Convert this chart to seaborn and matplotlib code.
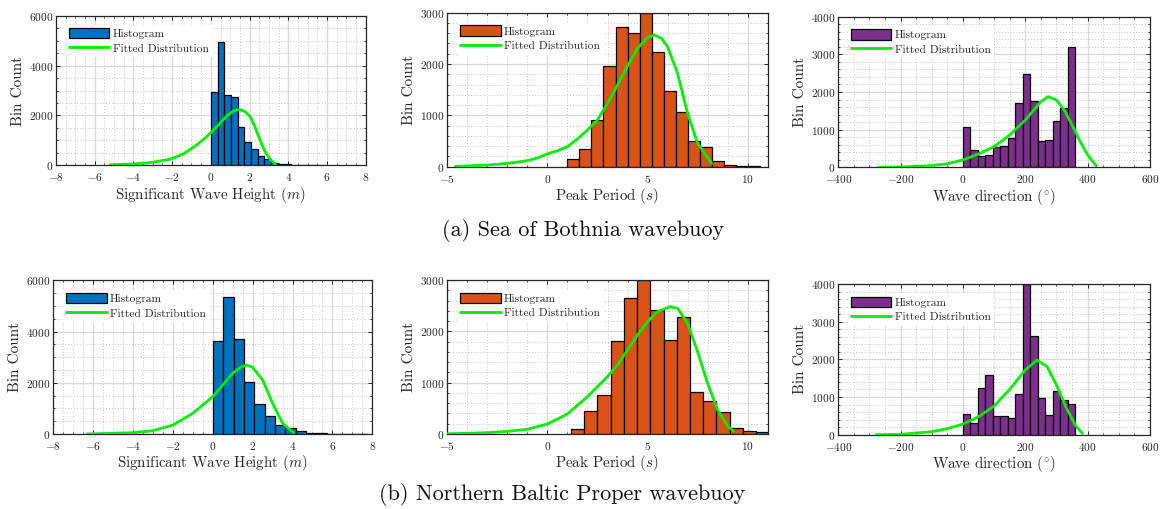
import numpy as np
import pandas as pd
import matplotlib
matplotlib.use("Agg")
import matplotlib.pyplot as plt
import seaborn as sns
from matplotlib.patches import Patch
from matplotlib.lines import Line2D
from matplotlib.ticker import MultipleLocator

# ---------------- data ----------------
# (a) Sea of Bothnia
hs_a_start, hs_a_width = 0.0, 0.345
hs_a_counts = [2920, 4950, 2820, 2720, 1530, 925, 645, 375, 235, 100, 65, 50, 30, 20, 15, 10, 5]
hs_a_fit_x = [-5.2, -4.0, -3.14, -2.11, -1.42, -0.73, -0.21, 0.31, 0.82, 1.16, 1.47, 1.77, 2.03, 2.28, 2.54, 2.80, 3.06, 3.32]
hs_a_fit_y = [20, 54, 107, 241, 455, 816, 1150, 1551, 1979, 2179, 2246, 2153, 1952, 1551, 1016, 548, 241, 53]

tp_a_start, tp_a_width = 1.0, 0.6
tp_a_counts = [150, 350, 910, 1960, 2720, 2600, 2990, 2240, 1470, 1060, 510, 380, 110, 40, 15, 5]
tp_a_fit_x = [-4.6, -3.0, -2.0, -1.0, -0.5, 0.0, 0.5, 1.0, 1.5, 2.0, 2.5, 3.0, 3.5, 4.0, 4.5, 5.0, 5.35, 5.7, 6.0, 6.5, 7.0, 7.5, 8.2]
tp_a_fit_y = [5, 32, 65, 117, 170, 250, 310, 390, 540, 714, 909, 1234, 1591, 1961, 2305, 2520, 2565, 2500, 2338, 1818, 1039, 455, 65]

dir_a_start, dir_a_width = 0.0, 24.0
dir_a_counts = [1070, 460, 310, 330, 550, 570, 770, 1710, 2480, 1760, 690, 730, 1220, 1570, 3200]
dir_a_fit_x = [-270, -200, -100, -50, 0, 50, 100, 150, 200, 250, 273, 300, 325, 350, 375, 400, 428]
dir_a_fit_y = [0, 9, 44, 95, 195, 354, 549, 858, 1257, 1743, 1876, 1788, 1520, 1124, 700, 327, 35]

# (b) Northern Baltic Proper
hs_b_start, hs_b_width = 0.0, 0.52
hs_b_counts = [3630, 5350, 3700, 2020, 1190, 720, 360, 230, 130, 50, 25, 12, 8, 5, 4]
hs_b_fit_x = [-6.3, -4.0, -3.0, -2.0, -1.0, -0.5, 0.0, 0.5, 1.0, 1.4, 1.7, 2.0, 2.5, 3.0, 3.5, 4.05]
hs_b_fit_y = [0, 50, 130, 350, 807, 1133, 1458, 1914, 2370, 2604, 2695, 2604, 2109, 1198, 417, 52]

tp_b_start, tp_b_width = 1.18, 0.66
tp_b_counts = [100, 440, 760, 1820, 2640, 3000, 2410, 1830, 2280, 820, 640, 430, 110, 55, 30]
tp_b_fit_x = [-5.0, -4.0, -3.0, -2.0, -1.0, 0.0, 1.0, 2.0, 3.0, 3.5, 4.0, 4.5, 5.0, 5.5, 6.13, 6.5, 7.0, 7.5, 8.0, 8.5, 9.0, 9.3]
tp_b_fit_y = [6, 13, 26, 52, 91, 195, 390, 727, 1117, 1344, 1636, 1929, 2188, 2383, 2481, 2448, 2156, 1604, 987, 468, 156, 52]

dir_b_start, dir_b_width = 0.0, 24.0
dir_b_counts = [560, 320, 1230, 1590, 500, 490, 440, 1090, 4000, 2610, 970, 520, 1150, 930, 820]
dir_b_fit_x = [-278, -200, -100, -50, 0, 50, 100, 150, 200, 237, 270, 300, 330, 360, 383]
dir_b_fit_y = [0, 9, 80, 160, 283, 478, 761, 1204, 1717, 1982, 1805, 1319, 743, 257, 35]

xlabels = ["Significant Wave Height ($m$)", "Peak Period ($s$)", "Wave direction ($^{\\circ}$)"]
captions = ["(a) Sea of Bothnia wavebuoy", "(b) Northern Baltic Proper wavebuoy"]

BLUE, ORANGE, PURPLE, GREEN = "#0072BD", "#D95319", "#7E2F8E", "#00F000"

# ---------------- style ----------------
sns.set_theme(style="white")
plt.rcParams["font.family"] = ["cmr10", "DejaVu Serif"]
plt.rcParams["mathtext.fontset"] = "cm"
plt.rcParams["axes.formatter.use_mathtext"] = True
plt.rcParams["axes.unicode_minus"] = True

W, H = 1167, 509
fig = plt.figure(figsize=(W / 100, H / 100), dpi=100)


def add_axes_px(l, t, r, b):
    return fig.add_axes([l / W, 1 - b / H, (r - l) / W, (b - t) / H])


panels = [
    dict(box=(56, 15.7, 365.7, 165.3), start=hs_a_start, width=hs_a_width, counts=hs_a_counts,
         fx=hs_a_fit_x, fy=hs_a_fit_y, color=BLUE, xlim=(-8, 8), ylim=(0, 6000),
         xmaj=2, xmin=0.5, ymaj=2000, ymin=500, xl=xlabels[0]),
    dict(box=(447.3, 12.7, 767.7, 166.7), start=tp_a_start, width=tp_a_width, counts=tp_a_counts,
         fx=tp_a_fit_x, fy=tp_a_fit_y, color=ORANGE, xlim=(-5, 11), ylim=(0, 3000),
         xmaj=5, xmin=1, ymaj=1000, ymin=200, xl=xlabels[1]),
    dict(box=(838.3, 16.7, 1150, 167.3), start=dir_a_start, width=dir_a_width, counts=dir_a_counts,
         fx=dir_a_fit_x, fy=dir_a_fit_y, color=PURPLE, xlim=(-400, 600), ylim=(0, 4000),
         xmaj=200, xmin=50, ymaj=1000, ymin=200, xl=xlabels[2]),
    dict(box=(53.3, 280.3, 372.3, 434), start=hs_b_start, width=hs_b_width, counts=hs_b_counts,
         fx=hs_b_fit_x, fy=hs_b_fit_y, color=BLUE, xlim=(-8, 8), ylim=(0, 6000),
         xmaj=2, xmin=0.5, ymaj=2000, ymin=500, xl=xlabels[0]),
    dict(box=(447.3, 280, 767.7, 434), start=tp_b_start, width=tp_b_width, counts=tp_b_counts,
         fx=tp_b_fit_x, fy=tp_b_fit_y, color=ORANGE, xlim=(-5, 11), ylim=(0, 3000),
         xmaj=5, xmin=1, ymaj=1000, ymin=200, xl=xlabels[1]),
    dict(box=(838.3, 284, 1150, 434.7), start=dir_b_start, width=dir_b_width, counts=dir_b_counts,
         fx=dir_b_fit_x, fy=dir_b_fit_y, color=PURPLE, xlim=(-400, 600), ylim=(0, 4000),
         xmaj=200, xmin=50, ymaj=1000, ymin=200, xl=xlabels[2]),
]

AXC = "#262626"
for p in panels:
    ax = add_axes_px(*p["box"])
    n = len(p["counts"])
    edges = p["start"] + p["width"] * np.arange(n + 1)
    centers = (edges[:-1] + edges[1:]) / 2
    hist_df = pd.DataFrame({"value": centers, "count": np.asarray(p["counts"], dtype=float)})
    sns.histplot(data=hist_df, x="value", weights="count", bins=list(edges), ax=ax,
                 color=p["color"], edgecolor="black", linewidth=0.9, alpha=1.0, zorder=2)
    fit_df = pd.DataFrame({"x": p["fx"], "y": p["fy"]})
    sns.lineplot(data=fit_df, x="x", y="y", ax=ax, color=GREEN, linewidth=2.0, zorder=3,
                 sort=False, estimator=None)
    ax.set_xlim(*p["xlim"])
    ax.set_ylim(*p["ylim"])
    ax.xaxis.set_major_locator(MultipleLocator(p["xmaj"]))
    ax.xaxis.set_minor_locator(MultipleLocator(p["xmin"]))
    ax.yaxis.set_major_locator(MultipleLocator(p["ymaj"]))
    ax.yaxis.set_minor_locator(MultipleLocator(p["ymin"]))
    ax.set_axisbelow(True)
    ax.grid(True, which="major", color="#d9d9d9", linewidth=0.9, linestyle="-")
    ax.grid(True, which="minor", color="#c4c4c4", linewidth=0.7, linestyle=(0, (1, 2)))
    for s in ax.spines.values():
        s.set_visible(True)
        s.set_color(AXC)
        s.set_linewidth(0.9)
    ax.tick_params(which="both", direction="in", top=True, right=True, bottom=True, left=True,
                   colors=AXC, labelcolor="#262626")
    ax.tick_params(which="major", length=3.0, width=0.7, labelsize=8.2)
    ax.tick_params(axis="x", which="major", pad=4.2)
    ax.tick_params(axis="y", which="major", pad=2.0)
    ax.tick_params(which="minor", length=1.6, width=0.6)
    ax.set_xlabel(p["xl"], fontsize=10.8, labelpad=1, color="#262626")
    ax.set_ylabel("Bin Count", fontsize=11, labelpad=3, color="#262626")
    handles = [Patch(facecolor=p["color"], edgecolor="black", linewidth=0.9),
               Line2D([0], [0], color=GREEN, linewidth=2.0)]
    leg = ax.legend(handles, ["Histogram", "Fitted Distribution"], loc="upper left",
                    bbox_to_anchor=(0.03, 0.94), fontsize=8.3, frameon=True, fancybox=False,
                    framealpha=1.0, edgecolor="none", handlelength=3.5, handleheight=1.0,
                    handletextpad=0.3, borderpad=0.3, labelspacing=0.3, borderaxespad=0)

fig.text(583 / W, 1 - 231 / H, captions[0], ha="center", va="center", fontsize=16, color="#111111")
fig.text(562 / W, 1 - 494 / H, captions[1], ha="center", va="center", fontsize=16, color="#111111")

fig.savefig("out.png", dpi=100)
